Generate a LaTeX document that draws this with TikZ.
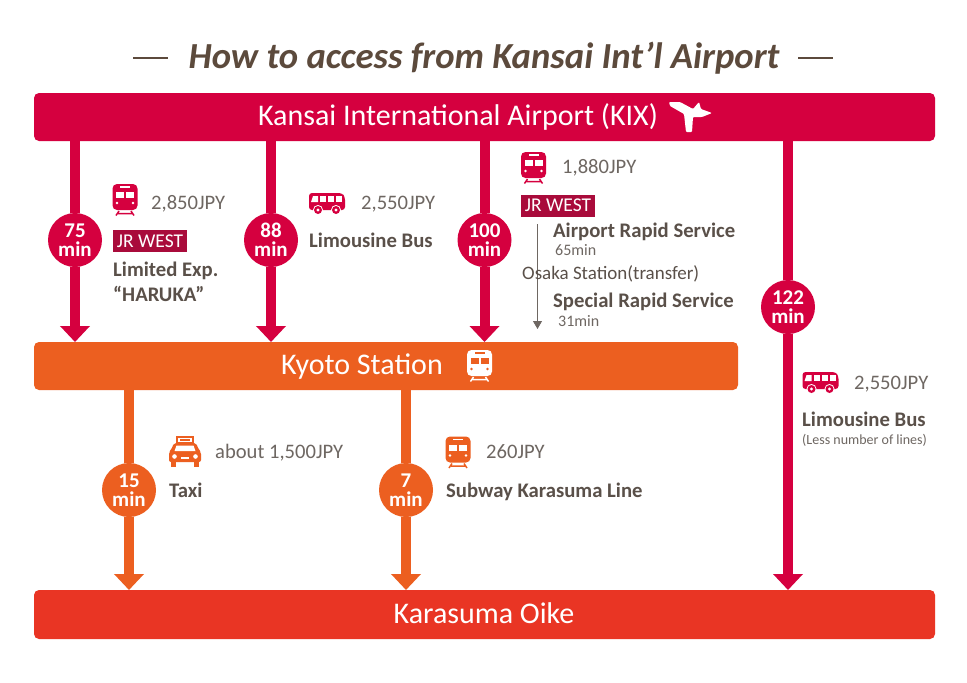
\documentclass[tikz,border=0pt]{standalone}
\usepackage{fontspec}
\setmainfont{Carlito}
\usetikzlibrary{arrows.meta}
\definecolor{crim}{HTML}{D5003F}
\definecolor{orng}{HTML}{EC5F20}
\definecolor{redd}{HTML}{E93524}
\definecolor{wine}{HTML}{A90B3B}
\definecolor{ttl}{HTML}{5C4A3C}
\definecolor{lbl}{HTML}{5A5049}
\definecolor{prc}{HTML}{6E6762}
\tikzset{
  x=1pt,y=-1pt,
  bar/.style={rounded corners=5pt,inner sep=0pt,outer sep=0pt,fill=#1},
  bartext/.style={text=white,font=\fontsize{30}{32}\selectfont,inner sep=0pt,anchor=base},
  conn/.style={draw=#1,line width=10pt,-{Triangle[width=29pt,length=16pt]}},
  linkup/.style={draw=#1,line width=10pt},
  mins/.style={circle,fill=#1,minimum size=54pt,inner sep=0pt,text=white,align=center,
    execute at begin node={\rule{0pt}{18pt}},
    font=\fontsize{21}{19}\selectfont\bfseries},
  price/.style={anchor=base west,inner sep=0pt,text=prc,font=\fontsize{20.6}{22}\selectfont},
  label/.style={anchor=base west,inner sep=0pt,text=lbl,font=\fontsize{20.7}{22}\selectfont\bfseries},
  small/.style={anchor=base west,inner sep=0pt,text=prc,font=\fontsize{#1}{16}\selectfont},
  badge/.style={fill=wine,text=white,minimum width=74pt,minimum height=22pt,inner sep=0pt,
    font=\fontsize{19.5}{20}\selectfont},
  pics/train/.style args={#1/#2}{code={
    \fill[#1,rounded corners=4.5pt] (-12.5,-16) rectangle (12.5,10);
    \fill[#2] (-5,-14) rectangle (5,-12.5);
    \fill[#2] (-9,-8) rectangle (-1,-2);
    \fill[#2] (1,-8) rectangle (9,-2);
    \fill[#2] (-8,3) circle (1.3);
    \fill[#2] (8,3) circle (1.3);
    \draw[#1,line width=1.5pt] (-9,15.5) -- (-6,11) (9,15.5) -- (6,11) (-7,13.5) -- (7,13.5);
  }},
  pics/bus/.style={code={
    \fill[crim,rounded corners=3pt] (-18,-11) -- (15,-11) -- (18,-7) -- (18,6) -- (-18,6) -- (-18,-2) -- cycle;
    \fill[white] (-14,-8) -- (-9,-8) -- (-9,-2) -- (-16,-2) -- cycle;
    \fill[white] (-7,-8) rectangle (-1,-2);
    \fill[white] (1,-8) rectangle (7,-2);
    \fill[white] (9,-8) rectangle (15,-2);
    \foreach \q in {-9,9}{
      \fill[white] (\q,6) circle (5);
      \fill[crim] (\q,6) circle (4);
      \fill[white] (\q,6) circle (1.7);
    }
  }},
  pics/taxi/.style={code={
    \draw[orng,line width=1.2pt] (-8,-15) rectangle (8,-9);
    \fill[orng] (-5,-13) rectangle (5,-11);
    \fill[orng,rounded corners=2pt] (-11,-9) -- (11,-9) -- (14,-2) -- (16,0) -- (16,10) -- (-16,10) -- (-16,0) -- (-14,-2) -- cycle;
    \fill[white] (-8.5,-6.5) -- (8.5,-6.5) -- (10.5,-1) -- (-10.5,-1) -- cycle;
    \fill[orng] (-14,10) rectangle (-9,15);
    \fill[orng] (9,10) rectangle (14,15);
    \fill[white] (-10.5,4.5) circle (2.3);
    \fill[white] (10.5,4.5) circle (2.3);
    \fill[white] (-4,5) rectangle (4,7);
  }}
}
\begin{document}
\begin{tikzpicture}
\useasboundingbox (0,0) rectangle (967,683);
\fill[white] (0,0) rectangle (967,683);
% title
\node[anchor=base,inner sep=0pt,text=ttl,font=\fontsize{36.7}{38}\selectfont\bfseries\itshape] (title) at (484,68) {How to access from Kansai Int’l Airport};
\coordinate (ttlLa) at (133,58); \coordinate (ttlLb) at (168,58);
\coordinate (ttlRa) at (798,58); \coordinate (ttlRb) at (833,58);
\draw[ttl,line width=2.6pt] (ttlLa) -- (ttlLb) (ttlRa) -- (ttlRb);
% bars
\path[bar=crim] (34,93) rectangle (935,141);
\node[minimum width=901pt,minimum height=48pt,inner sep=0pt,outer sep=0pt] (kix) at (484.5,117) {};
\path[bar=orng] (34,342) rectangle (738,390);
\node[minimum width=704pt,minimum height=48pt,inner sep=0pt,outer sep=0pt] (kyoto) at (386,366) {};
\path[bar=redd] (34,590) rectangle (935,639);
\node[minimum width=901pt,minimum height=49pt,inner sep=0pt,outer sep=0pt] (oike) at (484.5,614.5) {};
\node[bartext] (kixt) at (458,125) {Kansai International Airport (KIX)};
\node[bartext] (kyotot) at (362,374) {Kyoto Station};
\node[bartext] (oiket) at (484,623) {Karasuma Oike};
% circles
\node[mins=crim] (m75) at (75,240) {75\\min};
\node[mins=crim] (m88) at (271,240) {88\\min};
\node[mins=crim] (m100) at (484.5,240) {100\\min};
\node[mins=crim] (m122) at (788,307) {122\\min};
\node[mins=orng] (m15) at (129,490) {15\\min};
\node[mins=orng] (m7) at (406,490) {7\\min};
% connectors
\draw[linkup=crim] (m75 |- kix.south) -- (m75.north);
\draw[conn=crim] (m75.south) -- (m75 |- kyoto.north);
\draw[linkup=crim] (m88 |- kix.south) -- (m88.north);
\draw[conn=crim] (m88.south) -- (m88 |- kyoto.north);
\draw[linkup=crim] (m100 |- kix.south) -- (m100.north);
\draw[conn=crim] (m100.south) -- (m100 |- kyoto.north);
\draw[linkup=crim] (m122 |- kix.south) -- (m122.north);
\draw[conn=crim] (m122.south) -- (m122 |- oike.north);
\draw[linkup=orng] (m15 |- kyoto.south) -- (m15.north);
\draw[conn=orng] (m15.south) -- (m15 |- oike.north);
\draw[linkup=orng] (m7 |- kyoto.south) -- (m7.north);
\draw[conn=orng] (m7.south) -- (m7 |- oike.north);
% plane
\fill[white,rounded corners=1pt] (669,102) -- (680,102) -- (693,109) -- (699,102) -- (701,109) -- (712,113) -- (702,117) -- (693,117) -- (692,132) -- (686,132) -- (684,114) -- (670,106) -- cycle;
\pic at (479.5,366) {train=white/orng};
% HARUKA column
\pic at (125,200) {train=crim/white};
\node[price] (p1) at (151,209) {2,850JPY};
\node[badge] (b1) at (150,241) {JR WEST};
\node[label] (l1) at (113,276) {Limited Exp.};
\node[label] (l1b) at (113,301) {“HARUKA”};
% bus
\pic at (327,204) {bus};
\node[price] (p2) at (361,209) {2,550JPY};
\node[label] (l2) at (309,247) {Limousine Bus};
% JR
\pic at (533.5,168) {train=crim/white};
\node[price] (p3) at (562,173) {1,880JPY};
\node[badge] (b2) at (558,205.5) {JR WEST};
\coordinate (ra) at (537.5,224);
\coordinate (rb) at (537.5,329);
\draw[prc,line width=0.8pt,-{Triangle[width=9pt,length=8pt]}] (ra) -- (rb);
\node[label] (l3) at (553,237) {Airport Rapid Service};
\node[small=16] (t3) at (555,255) {65min};
\node[anchor=base west,inner sep=0pt,text=lbl,font=\fontsize{19}{20}\selectfont] (osaka) at (522,279) {Osaka Station(transfer)};
\node[label] (l4) at (553,307) {Special Rapid Service};
\node[small=16] (t4) at (558,326) {31min};
% taxi
\pic at (185,452) {taxi};
\node[price] (p4) at (215,458) {about 1,500JPY};
\node[label] (l5) at (169,497) {Taxi};
% subway
\pic at (458,452.5) {train=orng/white};
\node[price] (p5) at (486,458) {260JPY};
\node[label] (l6) at (446,497) {Subway Karasuma Line};
% limousine
\pic at (820.5,383) {bus};
\node[price] (p6) at (854,389) {2,550JPY};
\node[label] (l7) at (802,426) {Limousine Bus};
\node[small=14] (t7) at (802,444) {(Less number of lines)};
\end{tikzpicture}
\end{document}
